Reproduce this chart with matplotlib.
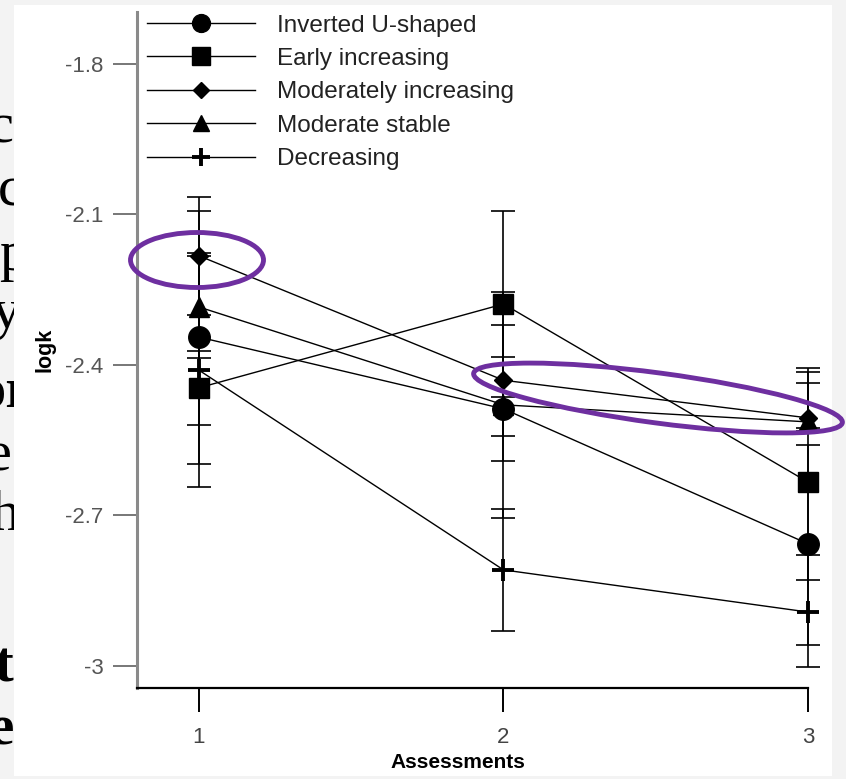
import matplotlib
matplotlib.use('Agg')
import matplotlib.pyplot as plt
from matplotlib.patches import Ellipse, Rectangle

W, H = 846, 779
DPI = 100

# ---------------- data ----------------
assessments = [1, 2, 3]
x_ticks = [1, 2, 3]
y_ticks = [-1.8, -2.1, -2.4, -2.7, -3.0]
y_tick_labels = ['-1.8', '-2.1', '-2.4', '-2.7', '-3']

series_names = ['Inverted U-shaped', 'Early increasing', 'Moderately increasing',
                'Moderate stable', 'Decreasing']

inverted_u_mean = [-2.345, -2.488, -2.757]
inverted_u_low = [-2.598, -2.592, -2.959]
inverted_u_high = [-2.094, -2.385, -2.560]

early_inc_mean = [-2.446, -2.279, -2.634]
early_inc_low = [-2.520, -2.464, -2.829]
early_inc_high = [-2.373, -2.094, -2.437]

mod_inc_mean = [-2.183, -2.431, -2.506]
mod_inc_low = [-2.301, -2.542, -2.526]
mod_inc_high = [-2.066, -2.321, -2.407]

mod_stable_mean = [-2.285, -2.480, -2.514]
mod_stable_low = [-2.387, -2.705, -2.532]
mod_stable_high = [-2.183, -2.255, -2.415]

decreasing_mean = [-2.411, -2.809, -2.893]
decreasing_low = [-2.644, -2.931, -3.003]
decreasing_high = [-2.177, -2.688, -2.779]

# clipped slide text fragments at the left margin
margin_texts = ['c', 'ac', 'ap', 'y', 'or', 'e', 'h', 'at', 'be']

# ---------------- figure ----------------
plt.rcParams['font.family'] = ['Liberation Sans', 'DejaVu Sans']
fig = plt.figure(figsize=(W / DPI, H / DPI), dpi=DPI, facecolor='#f3f3f3')

# background layer in pixel coordinates
bg = fig.add_axes([0, 0, 1, 1], zorder=0)
bg.set_xlim(0, W)
bg.set_ylim(H, 0)
bg.axis('off')
bg.patch.set_alpha(0)

frag_base = [142, 205, 270, 328, 407, 470, 530, 682, 743]
frag_right = [14, 24, 29, 20, 32, 12, 20, 14, 15]
frag_bold = [False, False, False, False, True, False, False, True, True]
for t, yb, xr, b in zip(margin_texts, frag_base, frag_right, frag_bold):
    bg.text(xr, yb, t, ha='right', va='baseline', fontsize=42,
            family=['Liberation Serif', 'DejaVu Serif'],
            fontweight='bold' if b else 'normal', color='black', zorder=2)
bg.add_patch(Rectangle((14, 5), 818, 771, facecolor='white', edgecolor='none', zorder=3))

# chart axes
x0, x1 = 137, 808
y_top, y_bot = 12, 688
ax = fig.add_axes([x0 / W, 1 - y_bot / H, (x1 - x0) / W, (y_bot - y_top) / H], zorder=1)
ax.patch.set_alpha(0)
ax.set_xlim(0.7964, 3.0)
ax.set_ylim(-3.0444, -1.697)

means = [inverted_u_mean, early_inc_mean, mod_inc_mean, mod_stable_mean, decreasing_mean]
lows = [inverted_u_low, early_inc_low, mod_inc_low, mod_stable_low, decreasing_low]
highs = [inverted_u_high, early_inc_high, mod_inc_high, mod_stable_high, decreasing_high]
markers = ['o', 's', 'D', '^', '+']
msizes = [15.5, 15, 9.5, 14.5, 16]
mews = [1, 1, 1, 1, 2.8]

handles = []
for name, m, lo, hi, mk, ms, mw in zip(series_names, means, lows, highs, markers, msizes, mews):
    yerr = [[a - b for a, b in zip(m, lo)], [b - a for a, b in zip(m, hi)]]
    cont = ax.errorbar(assessments, m, yerr=yerr, fmt='none', ecolor='black',
                       elinewidth=1.2, capsize=8.3, capthick=1.2, zorder=2)
    for art in list(cont.lines[1]) + list(cont.lines[2]):
        art.set_clip_on(False)
    ln, = ax.plot(assessments, m, color='black', lw=1.0, marker=mk, ms=ms,
                  mfc='black', mec='black', mew=mw, clip_on=False, label=name, zorder=3)
    handles.append(ln)

for s in ['top', 'right']:
    ax.spines[s].set_visible(False)
ax.spines['left'].set_color('#8a8a8a')
ax.spines['left'].set_linewidth(2.2)
ax.spines['bottom'].set_color('black')
ax.spines['bottom'].set_linewidth(1.6)

ax.set_xticks(x_ticks)
ax.set_xticklabels([str(v) for v in x_ticks])
ax.set_yticks(y_ticks)
ax.set_yticklabels(y_tick_labels)
ax.tick_params(axis='y', direction='out', length=17, width=1.4, color='#777777',
               labelsize=16, labelcolor='#555555', pad=7)
ax.tick_params(axis='x', direction='out', length=17, width=1.4, color='black',
               labelsize=16, labelcolor='#444444', pad=11)

ax.set_ylabel('logk', fontsize=15.5, fontweight='bold', labelpad=7)
ax.set_xlabel('Assessments', fontsize=15, fontweight='bold')
ax.xaxis.set_label_coords((458 - x0) / (x1 - x0), (y_bot - 762) / (y_bot - y_top))
ax.xaxis.label.set_va('center')

leg = ax.legend(handles=handles, loc='upper left',
                bbox_to_anchor=(147 / W, 1 - 14.5 / H), bbox_transform=fig.transFigure,
                frameon=False, fontsize=17.5, handlelength=4.44, handletextpad=0.9,
                labelspacing=0.47, borderpad=0, borderaxespad=0, markerscale=0.83,
                labelcolor='#222222')

# annotation ellipses (pixel coordinates)
ov = fig.add_axes([0, 0, 1, 1], zorder=3)
ov.set_xlim(0, W)
ov.set_ylim(H, 0)
ov.axis('off')
ov.patch.set_alpha(0)
ov.add_patch(Ellipse((197, 260), 133, 55, angle=0, fill=False,
                     edgecolor='#6E2FA0', lw=3.5))
ov.add_patch(Ellipse((658, 398), 372, 50, angle=7.6, fill=False,
                     edgecolor='#6E2FA0', lw=3.5))

fig.savefig('out.png', dpi=DPI, facecolor=fig.get_facecolor())
